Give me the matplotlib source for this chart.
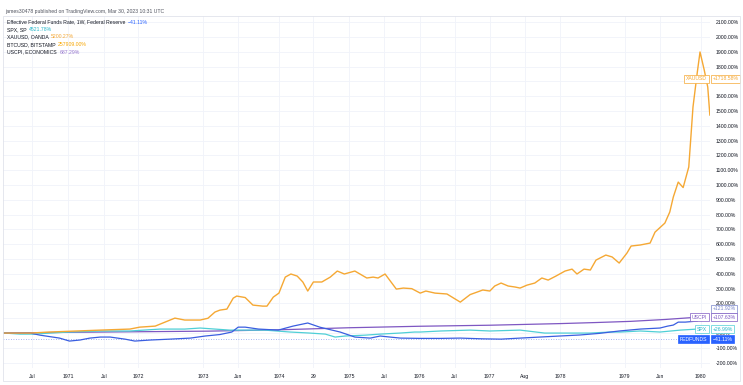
import matplotlib
matplotlib.use("Agg")
import matplotlib.pyplot as plt
import matplotlib.transforms as mtransforms

# gold (XAUUSD), percent change, x in decimal years
gold_x = [1970.09, 1970.46, 1970.74, 1971.46, 1971.88, 1972.02, 1972.24, 1972.38, 1972.52,
          1972.66, 1972.88, 1972.99, 1973.09, 1973.16, 1973.26, 1973.35, 1973.40, 1973.52,
          1973.63, 1973.77, 1973.83, 1973.92, 1974.00, 1974.09, 1974.17, 1974.26, 1974.34,
          1974.41, 1974.49, 1974.61, 1974.73, 1974.83, 1974.93, 1975.08, 1975.25, 1975.34,
          1975.41, 1975.51, 1975.67, 1975.77, 1975.89, 1976.01, 1976.09, 1976.22, 1976.39,
          1976.58, 1976.72, 1976.82, 1976.90, 1977.00, 1977.07, 1977.16, 1977.26, 1977.36,
          1977.43, 1977.53, 1977.64, 1977.74, 1977.83, 1977.94, 1978.07, 1978.17, 1978.24,
          1978.34, 1978.43, 1978.51, 1978.65, 1978.74, 1978.84, 1978.95, 1979.01, 1979.14,
          1979.28, 1979.35, 1979.49, 1979.56, 1979.61, 1979.68, 1979.75, 1979.83, 1979.89,
          1979.95, 1979.99, 1980.05, 1980.10, 1980.13]
gold_y = [0, 0, 7, 20, 27, 40, 47, 74, 101,
          88, 88, 100, 142, 155, 162, 236, 250, 240,
          189, 182, 182, 243, 270, 378, 399, 385, 345,
          284, 345, 345, 378, 419, 399, 419, 372, 378,
          372, 399, 297, 304, 300, 270, 284, 270, 264,
          209, 260, 277, 291, 284, 318, 338, 318, 311,
          304, 324, 338, 372, 358, 385, 419, 432, 399,
          432, 426, 493, 527, 514, 473, 540, 588, 595,
          608, 682, 743, 818, 919, 1020, 983, 1122, 1527,
          1757, 1899, 1777, 1662, 1473]

# effective federal funds rate
fed_x = [1970.09, 1970.46, 1970.60, 1970.88, 1971.02, 1971.17, 1971.31, 1971.46, 1971.60,
         1971.81, 1971.95, 1972.17, 1972.45, 1972.74, 1972.95, 1973.16, 1973.33, 1973.42,
         1973.52, 1973.71, 1973.99, 1974.20, 1974.41, 1974.58, 1974.87, 1975.08, 1975.30,
         1975.44, 1975.58, 1975.73, 1976.01, 1976.30, 1976.58, 1976.90, 1977.16, 1977.43,
         1977.71, 1977.99, 1978.28, 1978.56, 1978.70, 1978.84, 1979.14, 1979.42, 1979.53,
         1979.61, 1979.68, 1979.78, 1979.95]
fed_y = [0, 0, -14, -34, -54, -47, -34, -27, -27,
         -41, -54, -47, -41, -34, -20, -10, 7, 40,
         40, 27, 20, 47, 68, 40, 7, -27, -34,
         -20, -27, -34, -36, -36, -34, -39, -41, -34,
         -27, -20, -13, -2, 6, 14, 27, 34, 47,
         54, 74, 74, 81]

# S&P 500
spx_x = [1970.09, 1970.32, 1970.53, 1970.74, 1971.02, 1971.46, 1971.88, 1972.31, 1972.66,
         1972.88, 1973.09, 1973.30, 1973.59, 1973.80, 1974.16, 1974.44, 1974.66, 1974.80,
         1974.94, 1975.23, 1975.44, 1975.72, 1975.93, 1976.01, 1976.30, 1976.72, 1977.00,
         1977.43, 1977.78, 1978.14, 1978.43, 1978.71, 1978.86, 1979.14, 1979.42, 1979.71,
         1979.95]
spx_y = [0, -7, -7, 0, 7, 14, 14, 27, 27,
         34, 27, 20, 20, 20, 7, 0, -7, -27,
         -20, -14, -7, 0, 7, 7, 14, 20, 14,
         20, 0, 0, 0, 7, 7, 14, 7, 20,
         27]

# US CPI
cpi_x = [1970.09, 1971.0, 1972.0, 1973.0, 1974.0, 1975.0, 1976.0, 1977.0, 1978.0, 1978.5,
         1979.0, 1979.5, 1979.95]
cpi_y = [0, 5, 9, 13, 22, 36, 46, 53, 64, 71, 79, 92, 107]

tick_pos = [1970.49, 1971.0, 1971.51, 1972.0, 1972.92, 1973.42, 1974.0, 1974.49, 1975.0,
            1975.5, 1976.0, 1976.5, 1977.0, 1977.5, 1978.0, 1978.92, 1979.42, 1980.0]
tick_lab = ["Jul", "1971", "Jul", "1972", "1973", "Jun", "1974", "29", "1975",
            "Jul", "1976", "Jul", "1977", "Aug", "1978", "1979", "Jun", "1980"]

y_ticks = list(range(-200, 2200, 100))
# labels hidden behind the value boxes on the price scale
y_hidden = [100, 1700]

GOLD = "#f5a834"
FED = "#3a5ee0"
SPX = "#4fcfd6"
CPI = "#7e57c2"
GRID = "#f0f3fa"
TXT = "#131722"
FS = 3.7

plt.rcParams['font.family'] = ['Liberation Sans', 'DejaVu Sans']

fig = plt.figure(figsize=(7.43, 3.85), dpi=100)
ax = fig.add_axes([3 / 743, 1 - 368 / 385, 707 / 743, 352 / 385])

ax.plot(cpi_x, cpi_y, color=CPI, lw=0.9, zorder=3)
ax.plot(spx_x, spx_y, color=SPX, lw=0.9, zorder=3)
ax.plot(fed_x, fed_y, color=FED, lw=0.9, zorder=3)
ax.plot(gold_x, gold_y, color=GOLD, lw=1.0, zorder=4)
ax.axhline(-41.11, color=FED, ls=(0, (1, 2)), lw=0.6, alpha=0.6, zorder=2)

ax.set_xlim(1970.075, 1980.132)
ax.set_ylim(-236, 2142)

ax.set_xticks(tick_pos)
ax.set_xticklabels(tick_lab)
ax.set_yticks(y_ticks)
ax.set_yticklabels(["" if v in y_hidden else "{:.2f}%".format(v) for v in y_ticks])
ax.yaxis.tick_right()
ax.tick_params(axis="both", length=0, labelsize=FS, colors=TXT)
ax.tick_params(axis="y", pad=4)
ax.tick_params(axis="x", pad=4)
for lab in ax.get_yticklabels():
    lab.set_horizontalalignment("left")
ax.grid(True, color=GRID, lw=0.6)
ax.set_axisbelow(True)
for s in ax.spines.values():
    s.set_visible(False)

# outer frame of the chart
fig.patches.append(plt.Rectangle((3 / 743, 1 - 381 / 385), 737 / 743, 365 / 385,
                                 transform=fig.transFigure, fill=False,
                                 ec="#e0e3eb", lw=0.6))

# right edge value labels
tr = mtransforms.blended_transform_factory(ax.transAxes, ax.transData)
X_NAME = 704 / 707
X_VAL = 709.5 / 707


def tag(x, y, s, fg, bg="white", ec=None, ha="left"):
    ax.text(x, y, s, transform=tr, fontsize=FS, color=fg, ha=ha, va="center",
            clip_on=False, zorder=10,
            bbox=dict(boxstyle="square,pad=0.3", fc=bg, ec=ec or fg, lw=0.5))


tag(X_VAL, 1718.58, "+1718.58%", GOLD)
tag(X_NAME, 1718.58, "XAUUSD", GOLD, ha="right")
tag(X_VAL, 163, "+121.92%", "#7986cb")
tag(X_VAL, 108, "+107.63%", CPI)
tag(X_NAME, 108, "USCPI", CPI, ha="right")
tag(X_VAL, 27, "+26.99%", "#26b7c9", ec=SPX)
tag(X_NAME, 27, "SPX", "#26b7c9", ec=SPX, ha="right")
tag(X_VAL, -41.11, "\u221241.11%", "white", bg="#2962ff", ec="#2962ff")
tag(X_NAME, -41.11, "FEDFUNDS", "white", bg="#2962ff", ec="#2962ff", ha="right")

# header and legend
fig.text(5 / 743, 1 - 11 / 385, "james30478 published on TradingView.com, Mar 30, 2023 10:31 UTC",
         fontsize=FS, color="#50535e", va="center")
legend = [("Effective Federal Funds Rate, 1W, Federal Reserve", "\u221241.11%", "#2962ff"),
          ("SPX, SP", "4521.78%", "#26b7c9"),
          ("XAUUSD, OANDA", "5200.27%", GOLD),
          ("BTCUSD, BITSTAMP", "257909.00%", "#f7a600"),
          ("USCPI, ECONOMICS", "687.29%", "#9575cd")]
row_y = [22, 29.5, 37, 44.5, 52]
for (name, val, col), yy in zip(legend, row_y):
    t = fig.text(7 / 743, 1 - yy / 385, name + "  ", fontsize=FS, color=TXT, va="center")
    fig.canvas.draw()
    bb = t.get_window_extent()
    fig.text(bb.x1 / 743, 1 - yy / 385, val, fontsize=FS, color=col, va="center")

fig.savefig("out.png", dpi=100)
